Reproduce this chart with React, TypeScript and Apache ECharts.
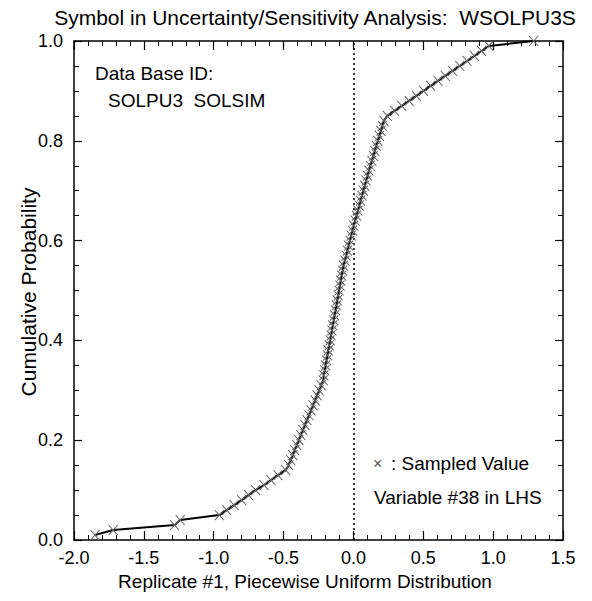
import React, { useEffect, useRef } from "react";
import * as echarts from "echarts";

const titleText = "Symbol in Uncertainty/Sensitivity Analysis:  WSOLPU3S";
const xAxisTitle = "Replicate #1, Piecewise Uniform Distribution";
const yAxisTitle = "Cumulative Probability";
const xTickValues = [-2.0, -1.5, -1.0, -0.5, 0.0, 0.5, 1.0, 1.5];
const yTickValues = [0.0, 0.2, 0.4, 0.6, 0.8, 1.0];

const sampleX = [
  -1.85, -1.72, -1.28, -1.24, -0.96, -0.907, -0.854, -0.8, -0.75, -0.7,
  -0.64, -0.59, -0.54, -0.485, -0.463, -0.449, -0.434, -0.42, -0.405, -0.391,
  -0.376, -0.362, -0.347, -0.333, -0.318, -0.303, -0.289, -0.274, -0.26, -0.245,
  -0.231, -0.216, -0.212, -0.205, -0.199, -0.192, -0.186, -0.18, -0.173, -0.167,
  -0.16, -0.154, -0.148, -0.141, -0.135, -0.128, -0.122, -0.116, -0.109, -0.103,
  -0.096, -0.09, -0.084, -0.077, -0.071, -0.061, -0.052, -0.043, -0.034, -0.025,
  -0.016, -0.007, 0.002, 0.012, 0.022, 0.032, 0.042, 0.051, 0.061, 0.071,
  0.081, 0.091, 0.101, 0.111, 0.121, 0.132, 0.143, 0.153, 0.164, 0.175,
  0.186, 0.197, 0.207, 0.218, 0.242, 0.294, 0.346, 0.398, 0.45, 0.502,
  0.553, 0.605, 0.657, 0.709, 0.761, 0.813, 0.865, 0.917, 0.969, 1.29,
];
const sampleY = [
  0.01, 0.02, 0.03, 0.04, 0.05, 0.06, 0.07, 0.08, 0.09, 0.1,
  0.11, 0.12, 0.13, 0.14, 0.15, 0.16, 0.17, 0.18, 0.19, 0.2,
  0.21, 0.22, 0.23, 0.24, 0.25, 0.26, 0.27, 0.28, 0.29, 0.3,
  0.31, 0.32, 0.33, 0.34, 0.35, 0.36, 0.37, 0.38, 0.39, 0.4,
  0.41, 0.42, 0.43, 0.44, 0.45, 0.46, 0.47, 0.48, 0.49, 0.5,
  0.51, 0.52, 0.53, 0.54, 0.55, 0.56, 0.57, 0.58, 0.59, 0.6,
  0.61, 0.62, 0.63, 0.64, 0.65, 0.66, 0.67, 0.68, 0.69, 0.7,
  0.71, 0.72, 0.73, 0.74, 0.75, 0.76, 0.77, 0.78, 0.79, 0.8,
  0.81, 0.82, 0.83, 0.84, 0.85, 0.86, 0.87, 0.88, 0.89, 0.9,
  0.91, 0.92, 0.93, 0.94, 0.95, 0.96, 0.97, 0.98, 0.99, 1.0,
];

const FONT = "'Liberation Sans', Arial, Helvetica, sans-serif";
const X_SYMBOL = "path://M0,0 L10,10 M10,0 L0,10";

export default function App() {
  const ref = useRef<HTMLDivElement>(null);
  useEffect(() => {
    if (!ref.current) return;
    const chart = echarts.init(ref.current, undefined, { renderer: "svg" });
    const xMin = xTickValues[0];
    const xMax = xTickValues[xTickValues.length - 1];
    const yMin = yTickValues[0];
    const yMax = yTickValues[yTickValues.length - 1];
    const axisLine = { show: true, onZero: false, lineStyle: { color: "#000", width: 1.5 } };
    const fmt = (v: number) => v.toFixed(1);
    const data = sampleX.map((x, i) => [x, sampleY[i]]);
    chart.setOption({
      animation: false,
      backgroundColor: "#fff",
      grid: { left: 74, right: 29, top: 41, bottom: 61, containLabel: false },
      xAxis: [
        {
          type: "value", min: xMin, max: xMax, interval: 0.5, position: "bottom",
          axisLine,
          axisTick: { show: true, inside: true, length: 9, lineStyle: { color: "#000", width: 1.2 } },
          minorTick: { show: true, splitNumber: 5, length: 5, lineStyle: { color: "#000", width: 1 } },
          splitLine: { show: false },
          axisLabel: { formatter: fmt, fontFamily: FONT, fontSize: 18, color: "#000", margin: 9 },
        },
        {
          type: "value", min: xMin, max: xMax, interval: 0.5, position: "top",
          axisLine,
          axisTick: { show: true, inside: true, length: 9, lineStyle: { color: "#000", width: 1.2 } },
          minorTick: { show: true, splitNumber: 5, length: 5, lineStyle: { color: "#000", width: 1 } },
          splitLine: { show: false },
          axisLabel: { show: false },
        },
      ],
      yAxis: [
        {
          type: "value", min: yMin, max: yMax, interval: 0.2, position: "left",
          axisLine,
          axisTick: { show: true, inside: true, length: 8, lineStyle: { color: "#000", width: 1.2 } },
          minorTick: { show: true, splitNumber: 4, length: 5, lineStyle: { color: "#000", width: 1 } },
          splitLine: { show: false },
          axisLabel: { formatter: fmt, fontFamily: FONT, fontSize: 18, color: "#000", margin: 11 },
        },
        {
          type: "value", min: yMin, max: yMax, interval: 0.2, position: "right",
          axisLine,
          axisTick: { show: true, inside: true, length: 8, lineStyle: { color: "#000", width: 1.2 } },
          minorTick: { show: true, splitNumber: 4, length: 5, lineStyle: { color: "#000", width: 1 } },
          splitLine: { show: false },
          axisLabel: { show: false },
        },
      ],
      series: [
        {
          type: "line",
          xAxisIndex: 0,
          yAxisIndex: 0,
          data,
          symbol: X_SYMBOL,
          symbolSize: [9, 10],
          showSymbol: true,
          itemStyle: { color: "none", borderColor: "#666", borderWidth: 1 },
          lineStyle: { color: "#000", width: 2 },
          z: 3,
          markLine: {
            silent: true,
            symbol: "none",
            label: { show: false },
            lineStyle: { color: "#000", type: [2, 3], width: 1.5 },
            data: [{ xAxis: 0 }],
            z: 1,
          },
        },
      ],
      graphic: [
        { type: "text", x: 315, y: 17, style: { text: titleText, font: `21px ${FONT}`, fill: "#000", textAlign: "center", textVerticalAlign: "middle" } },
        { type: "text", x: 305, y: 581, style: { text: xAxisTitle, font: `19px ${FONT}`, fill: "#000", textAlign: "center", textVerticalAlign: "middle" } },
        { type: "text", x: 28, y: 292, rotation: Math.PI / 2, style: { text: yAxisTitle, font: `21px ${FONT}`, fill: "#000", textAlign: "center", textVerticalAlign: "middle" } },
        { type: "text", x: 95, y: 73, style: { text: "Data Base ID:", font: `19px ${FONT}`, fill: "#000", textAlign: "left", textVerticalAlign: "middle" } },
        { type: "text", x: 108, y: 100, style: { text: "SOLPU3  SOLSIM", font: `19px ${FONT}`, fill: "#000", textAlign: "left", textVerticalAlign: "middle" } },
        { type: "text", x: 373, y: 463, style: { text: "×", font: `16px ${FONT}`, fill: "#555", textAlign: "left", textVerticalAlign: "middle" } },
        { type: "text", x: 391, y: 463, style: { text: ": Sampled Value", font: `19px ${FONT}`, fill: "#000", textAlign: "left", textVerticalAlign: "middle" } },
        { type: "text", x: 374, y: 497, style: { text: "Variable #38 in LHS", font: `19px ${FONT}`, fill: "#000", textAlign: "left", textVerticalAlign: "middle" } },
      ],
    });
    return () => chart.dispose();
  }, []);
  return <div ref={ref} style={{ position: "fixed", left: 0, top: 0, width: 592, height: 601 }} />;
}
